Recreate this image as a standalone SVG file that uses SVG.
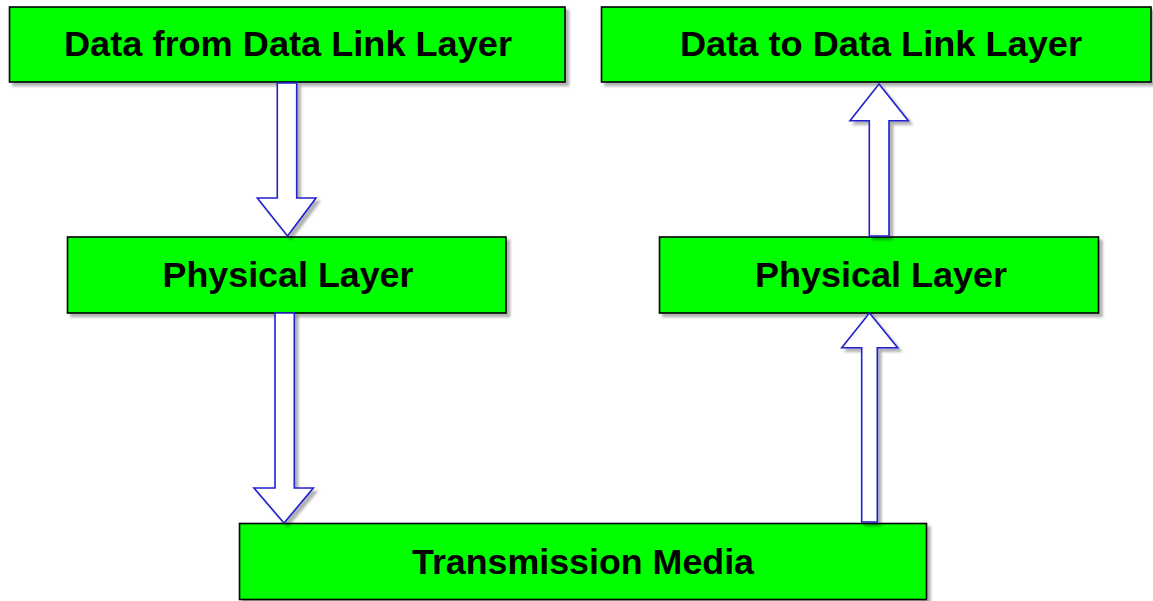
<svg xmlns="http://www.w3.org/2000/svg" width="1153" height="601" viewBox="0 0 1153 601">
<defs>
<filter id="sh" x="-10%" y="-10%" width="130%" height="130%">
<feDropShadow dx="3.5" dy="3.5" stdDeviation="0.8" flood-color="#000" flood-opacity="0.3"/>
</filter>
<style>
.box{fill:#00ff00;stroke:#000;stroke-width:1.6;filter:url(#sh)}
.lbl{font-family:"Liberation Sans",Arial,sans-serif;font-weight:bold;font-size:35px;fill:#000;text-anchor:middle}
.arr{fill:#fff;stroke:#2020d0;stroke-width:1.6;stroke-linejoin:miter;filter:url(#sh)}
</style>
</defs>
<rect width="1153" height="601" fill="#fff"/>
<g id="node-data-from">
<rect class="box" x="9.5" y="7" width="555.5" height="75"/>
<text class="lbl" x="288" y="56" textLength="448" lengthAdjust="spacingAndGlyphs">Data from Data Link Layer</text>
</g>
<g id="node-data-to">
<rect class="box" x="601.5" y="7" width="549.5" height="75"/>
<text class="lbl" x="881" y="56" textLength="402" lengthAdjust="spacingAndGlyphs">Data to Data Link Layer</text>
</g>
<g id="node-physical-left">
<rect class="box" x="67.5" y="237" width="438.5" height="76"/>
<text class="lbl" x="288" y="287" textLength="251" lengthAdjust="spacingAndGlyphs">Physical Layer</text>
</g>
<g id="node-physical-right">
<rect class="box" x="659.5" y="237" width="439" height="76"/>
<text class="lbl" x="881" y="287" textLength="252" lengthAdjust="spacingAndGlyphs">Physical Layer</text>
</g>
<g id="node-transmission">
<rect class="box" x="239.5" y="523.5" width="687" height="76"/>
<text class="lbl" x="583" y="573.5" textLength="342" lengthAdjust="spacingAndGlyphs">Transmission Media</text>
</g>
<g id="connectors">
<polygon class="arr" points="277.3,83 296.7,83 296.7,198 316,198 287.5,236 257.3,198 277.3,198"/>
<polygon class="arr" points="275,313 294.3,313 294.3,488 313.3,488 284,523 254,488 275,488"/>
<polygon class="arr" points="869.5,313 897.7,347.7 877.3,347.7 877.3,522 861.7,522 861.7,347.7 841.7,347.7"/>
<polygon class="arr" points="879,84 908.3,120.7 889,120.7 889,236 869.3,236 869.3,120.7 850,120.7"/>
</g>
</svg>
